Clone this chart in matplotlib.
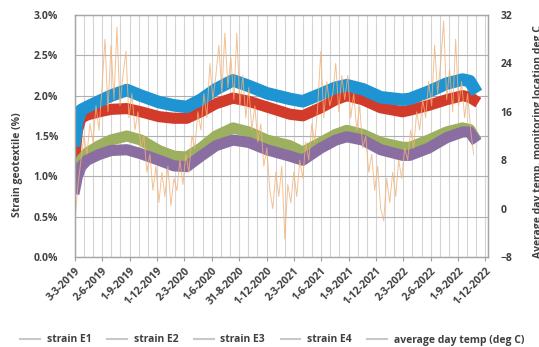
import numpy as np
import pandas as pd
import matplotlib
matplotlib.use('Agg')
import matplotlib.pyplot as plt
from matplotlib.lines import Line2D
from matplotlib.ticker import FixedLocator, FuncFormatter

plt.rcParams['font.family'] = ['Open Sans', 'DejaVu Sans']
plt.rcParams['font.weight'] = 'bold'

# ---- data ----
tick_labels = ['3-3-2019', '2-6-2019', '1-9-2019', '1-12-2019', '2-3-2020', '1-6-2020',
               '31-8-2020', '1-12-2020', '2-3-2021', '1-6-2021', '1-9-2021', '1-12-2021',
               '2-3-2022', '2-6-2022', '1-9-2022', '1-12-2022']

# days after 3-3-2019
strain_days = [0, 8, 20, 40, 80, 120, 173, 220, 280, 330, 373, 420, 470, 527, 580,
               640, 717, 760, 820, 870, 907, 960, 1020, 1093, 1117, 1180, 1240, 1293, 1317, 1330]
strain_e1 = [1.45, 1.68, 1.82, 1.86, 1.93, 2.00, 2.07, 2.00, 1.92, 1.88, 1.86, 1.95, 2.08, 2.19, 2.12,
             2.03, 1.96, 1.93, 2.02, 2.10, 2.13, 2.08, 1.98, 1.95, 1.96, 2.05, 2.15, 2.20, 2.18, 2.10]
strain_e2 = [1.25, 1.57, 1.72, 1.76, 1.80, 1.83, 1.84, 1.80, 1.74, 1.72, 1.72, 1.80, 1.90, 1.97, 1.93,
             1.86, 1.77, 1.75, 1.85, 1.95, 2.00, 1.95, 1.85, 1.80, 1.82, 1.88, 1.95, 2.00, 1.98, 1.95]
strain_e3 = [0.90, 1.05, 1.20, 1.29, 1.38, 1.45, 1.50, 1.45, 1.32, 1.25, 1.24, 1.35, 1.50, 1.60, 1.55,
             1.45, 1.38, 1.30, 1.42, 1.52, 1.57, 1.52, 1.42, 1.36, 1.36, 1.45, 1.55, 1.60, 1.58, 1.50]
strain_e4 = [0.85, 1.00, 1.12, 1.20, 1.27, 1.32, 1.33, 1.28, 1.20, 1.13, 1.12, 1.25, 1.38, 1.45, 1.42,
             1.33, 1.25, 1.20, 1.35, 1.45, 1.49, 1.45, 1.33, 1.26, 1.26, 1.35, 1.48, 1.55, 1.55, 1.48]

# average day temperature, one value per 10 days
temp_days = np.arange(0, 1331, 10)
temp = [-2, 4, 8, 12, 9, 14, 11, 17, 13, 20, 28, 16, 27, 18, 30, 17, 22, 26, 15, 19,
        13, 16, 10, 12, 6, 9, 3, 7, 1, 6, 2, 7, 0.5, 5, 3, 8, 4, 9, 6, 12,
        10, 16, 13, 19, 15, 24, 18, 22, 27, 19, 29, 20, 25, 18, 29, 17, 22, 15, 20, 13,
        17, 11, 14, 7, 10, 3, 0, 6, 2, 7, -5, 4, 1, 6, 2, 8, 5, 11, 8, 14,
        11, 17, 26, 15, 21, 17, 19, 24, 16, 22, 18, 22, 15, 19, 13, 17, 10, 12, 6, 9,
        3, 7, 0, -2, 5, 1, 6, 2, 8, 5, 10, 8, 13, 10, 16, 13, 18, 15, 21, 17,
        27, 19, 24, 31, 18, 23, 16, 28, 17, 21, 15, 19, 13, 9]

start = pd.Timestamp(2019, 3, 3)
tick_days = [(pd.to_datetime(s, format='%d-%m-%Y') - start).days for s in tick_labels]

fig = plt.figure(figsize=(5.39, 3.47), dpi=100)
ax = fig.add_axes([75 / 539, 1 - 257 / 347, 413 / 539, 242 / 347])
ax2 = ax.twinx()

# grid
minor = []
for a, b in zip(tick_days[:-1], tick_days[1:]):
    minor += [a + (b - a) / 3, a + 2 * (b - a) / 3]
minor += [tick_days[-1] + 30]
for d in tick_days + minor:
    ax.axvline(d, color='#d4d4d4', lw=0.8, zorder=0)
for v in np.arange(0.5, 3.0, 0.5):
    ax.axhline(v, color='#b0b0b0', lw=0.8, zorder=0)

lw_band = 8.0
ax.plot(strain_days, strain_e1, color='#1f94d2', lw=9.0, solid_joinstyle='round', zorder=3)
ax.plot(strain_days, strain_e2, color='#d23a2a', lw=lw_band, solid_joinstyle='round', zorder=2)
ax.plot(strain_days, strain_e3, color='#9db05f', lw=lw_band, solid_joinstyle='round', zorder=2)
ax.plot(strain_days, strain_e4, color='#8a6ea2', lw=lw_band, solid_joinstyle='round', zorder=3)

ax2.plot(temp_days, temp, color='#f3b176', lw=0.7, alpha=0.8)

ax.set_xlim(0, 1378)
ax.set_ylim(0, 3.0)
ax2.set_ylim(-8, 32)
ax.set_yticks(np.arange(0, 3.01, 0.5))
ax.yaxis.set_major_formatter(FuncFormatter(lambda v, p: f'{v:.1f}%'))
ax2.set_yticks(np.arange(-8, 33, 8))

ax.xaxis.set_major_locator(FixedLocator(tick_days))
ax.set_xticklabels(tick_labels, rotation=45, ha='right', rotation_mode='anchor')

tc = '#404040'
ax.tick_params(axis='x', length=3, color='#a0a0a0', labelsize=7.5, labelcolor=tc, pad=3)
ax.tick_params(axis='y', length=0, labelsize=7.5, labelcolor=tc, pad=12)
ax2.tick_params(axis='y', length=0, labelsize=7.5, labelcolor=tc, pad=9)

for a in (ax, ax2):
    for s in a.spines.values():
        s.set_color('#a6a6a6')
        s.set_linewidth(0.9)

fig.text(18 / 539, 1 - 165 / 347, 'Strain geotextile (%)', rotation=90, ha='center', va='center',
         fontsize=7.5, color=tc, fontweight='bold')
fig.text(533 / 539, 1 - 142 / 347, 'Average day temp. monitoring location deg C', rotation=90,
         ha='left', va='center', fontsize=7.5, color=tc, fontweight='bold')

names = ['strain E1', 'strain E2', 'strain E3', 'strain E4', 'average day temp (deg C)']
handles = [Line2D([], [], color='#c8c8c8', lw=1.5) for _ in names]
fig.legend(handles, names, loc='center left', bbox_to_anchor=(20 / 539, 1 - 340 / 347), ncol=5,
           frameon=False, handlelength=1.9, handletextpad=0.65, columnspacing=1.5,
           borderpad=0, borderaxespad=0, labelcolor=tc, prop={'weight': 'bold', 'size': 7.5})

fig.savefig('out.png', dpi=100)
